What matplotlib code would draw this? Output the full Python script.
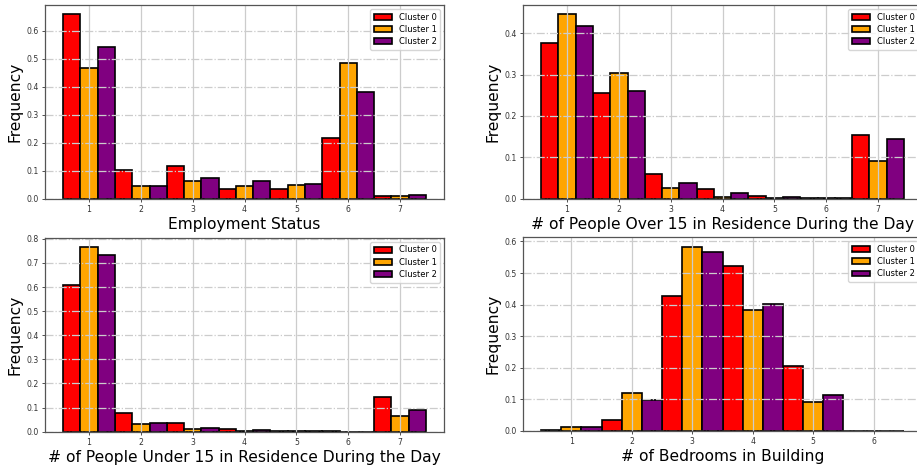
import numpy as np
import matplotlib
matplotlib.use("Agg")
import matplotlib.pyplot as plt

clusters = ["Cluster 0", "Cluster 1", "Cluster 2"]
colors = ["#ff0000", "#ffa500", "#800080"]

# Employment status (categories 1..7)
employment_cats = [1, 2, 3, 4, 5, 6, 7]
employment_c0 = [0.660, 0.102, 0.116, 0.034, 0.034, 0.217, 0.008]
employment_c1 = [0.469, 0.046, 0.063, 0.047, 0.049, 0.487, 0.009]
employment_c2 = [0.542, 0.046, 0.075, 0.063, 0.051, 0.381, 0.013]

# People over 15 in residence during the day (1..7)
over15_cats = [1, 2, 3, 4, 5, 6, 7]
over15_c0 = [0.377, 0.255, 0.059, 0.023, 0.007, 0.002, 0.153]
over15_c1 = [0.446, 0.303, 0.027, 0.004, 0.002, 0.001, 0.092]
over15_c2 = [0.417, 0.261, 0.037, 0.014, 0.003, 0.001, 0.144]

# People under 15 in residence during the day (1..7)
under15_cats = [1, 2, 3, 4, 5, 6, 7]
under15_c0 = [0.608, 0.077, 0.036, 0.011, 0.002, 0.001, 0.145]
under15_c1 = [0.765, 0.033, 0.012, 0.003, 0.001, 0.000, 0.066]
under15_c2 = [0.734, 0.038, 0.014, 0.006, 0.002, 0.000, 0.090]

# Bedrooms in building (1..6)
bedroom_cats = [1, 2, 3, 4, 5, 6]
bedroom_c0 = [0.002, 0.035, 0.428, 0.523, 0.207, 0.001]
bedroom_c1 = [0.013, 0.121, 0.584, 0.384, 0.092, 0.001]
bedroom_c2 = [0.013, 0.099, 0.568, 0.401, 0.114, 0.001]

panels = [
    (employment_cats, [employment_c0, employment_c1, employment_c2], "Employment Status"),
    (over15_cats, [over15_c0, over15_c1, over15_c2], "# of People Over 15 in Residence During the Day"),
    (under15_cats, [under15_c0, under15_c1, under15_c2], "# of People Under 15 in Residence During the Day"),
    (bedroom_cats, [bedroom_c0, bedroom_c1, bedroom_c2], "# of Bedrooms in Building"),
]

W, H = 917, 468
fig = plt.figure(figsize=(W / 100, H / 100), dpi=100)

# axes boxes in pixels: left, top, right, bottom
boxes = [
    (45, 5, 444, 198.7),
    (523, 5, 922, 198.7),
    (45, 238, 444, 431.7),
    (523, 237.3, 922, 431),
]

width = 1 / 3
for (cats, series, xlabel), (l, t, r, b) in zip(panels, boxes):
    ax = fig.add_axes([l / W, 1 - b / H, (r - l) / W, (b - t) / H])
    x = np.array(cats, dtype=float)
    for i, (vals, col, name) in enumerate(zip(series, colors, clusters)):
        ax.bar(x + (i - 1) * width, vals, width=width, color=col,
               edgecolor="black", linewidth=1.2, label=name)
    ax.set_xticks(cats)
    ax.grid(True, axis="x", color="#cccccc", linewidth=0.9)
    ax.grid(True, axis="y", color="#cccccc", linestyle="-.", linewidth=0.9)
    ax.tick_params(labelsize=5.6, length=2.5, width=0.6, pad=2, colors="#333333")
    for s in ax.spines.values():
        s.set_color("#555555")
        s.set_linewidth(0.9)
    ax.set_xlabel(xlabel, fontsize=11.2, labelpad=2)
    ax.set_ylabel("Frequency", fontsize=11.2, labelpad=3)
    ax.legend(loc="upper right", fontsize=6, handlelength=2.2,
              borderpad=0.4, labelspacing=0.4, framealpha=0.8)

fig.savefig("out.png", dpi=100, facecolor="white")
